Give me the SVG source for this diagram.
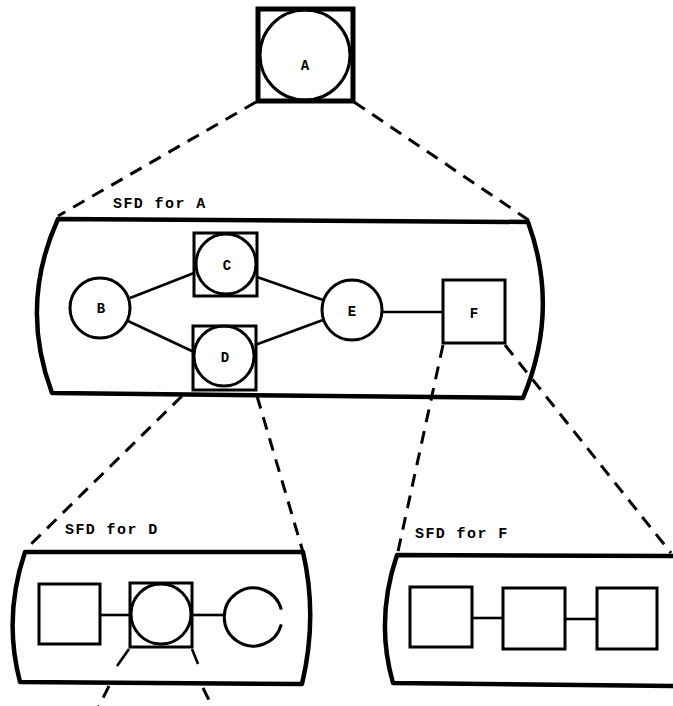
<svg xmlns="http://www.w3.org/2000/svg" width="673" height="706" viewBox="0 0 673 706">
<style>
.box{fill:none;stroke:#000;stroke-width:4.5;stroke-linejoin:round}
.sq{fill:none;stroke:#000;stroke-width:3}
.ci{fill:none;stroke:#000;stroke-width:3}
.ed{fill:none;stroke:#000;stroke-width:2.6}
.da{fill:none;stroke:#000;stroke-width:3;stroke-dasharray:13 9}
.lbl{font-family:"Liberation Mono","DejaVu Sans Mono",monospace;font-weight:bold;font-size:15px;letter-spacing:1.4px;fill:#000}
.nl{font-family:"Liberation Mono","DejaVu Sans Mono",monospace;font-weight:bold;font-size:14px;fill:#000;text-anchor:middle}
</style>
<rect width="673" height="706" fill="#fff"/>

<g id="connectors">
  <line class="da" x1="256" y1="102" x2="58" y2="216"/>
  <line class="da" x1="354" y1="102" x2="530" y2="221"/>
  <line class="da" x1="182" y1="396" x2="25" y2="550"/>
  <line class="da" x1="257" y1="396" x2="303" y2="552"/>
  <line class="da" x1="443" y1="345" x2="397" y2="556"/>
  <line class="da" x1="505" y1="345" x2="671" y2="553"/>
  <line class="ed" x1="130" y1="298" x2="194" y2="273"/>
  <line class="ed" x1="128" y1="321" x2="194" y2="352"/>
  <line class="ed" x1="257" y1="277" x2="323" y2="300"/>
  <line class="ed" x1="255" y1="345" x2="323" y2="320"/>
  <line class="ed" x1="382" y1="312" x2="443" y2="312"/>
  <line class="ed" x1="100" y1="615" x2="130" y2="615"/>
  <line class="ed" x1="192" y1="615" x2="224" y2="615"/>
  <line class="ed" x1="129" y1="649" x2="117" y2="666"/>
  <line class="ed" x1="192" y1="649" x2="198" y2="664"/>
  <line class="da" x1="109" y1="686" x2="98" y2="708"/>
  <line class="da" x1="203" y1="688" x2="213" y2="708"/>
  <line class="ed" x1="472" y1="618" x2="503" y2="618"/>
  <line class="ed" x1="565" y1="619" x2="597" y2="619"/>
</g>

<g id="nodeA">
  <rect x="258" y="9" width="95" height="92" fill="none" stroke="#000" stroke-width="5"/>
  <circle class="ci" cx="305" cy="55" r="45" stroke-width="4"/>
  <text class="nl" x="305" y="70">A</text>
</g>

<g id="sfdA">
  <path class="box" d="M58,219 L528,222 Q560,310 523,398 L52,393 Q19,305 58,219 Z"/>
  <text class="lbl" x="113" y="208">SFD for A</text>
</g>
<g id="nodeB">
  <circle class="ci" cx="100" cy="308" r="30"/>
  <text class="nl" x="101" y="313">B</text>
</g>
<g id="nodeC">
  <rect class="sq" x="194" y="233" width="63" height="63"/>
  <circle class="ci" cx="226" cy="264" r="30"/>
  <text class="nl" x="227" y="270">C</text>
</g>
<g id="nodeD">
  <rect class="sq" x="193" y="326" width="63" height="64"/>
  <circle class="ci" cx="224" cy="356" r="30"/>
  <text class="nl" x="225" y="362">D</text>
</g>
<g id="nodeE">
  <circle class="ci" cx="352" cy="310" r="30"/>
  <text class="nl" x="352" y="316">E</text>
</g>
<g id="nodeF">
  <rect class="sq" x="443" y="280" width="62" height="63"/>
  <text class="nl" x="474" y="318">F</text>
</g>

<g id="sfdD">
  <path class="box" d="M25,552 L303,552 Q318,617 302,684 L20,682 Q3,617 25,552 Z"/>
  <text class="lbl" x="65" y="534">SFD for D</text>
</g>
<g id="sfdD-n1">
  <rect class="sq" x="39" y="584" width="61" height="60"/>
</g>
<g id="sfdD-n2">
  <rect class="sq" x="130" y="583" width="62" height="64"/>
  <circle class="ci" cx="161" cy="614" r="30"/>
</g>
<g id="sfdD-n3">
  <path class="ci" d="M281.3,609.6 A29,29 0 1 0 281.3,624.4"/>
</g>

<g id="sfdF">
  <path class="box" d="M397,555 L678,556 L678,686 L393,683 Q375,620 397,555 Z"/>
  <text class="lbl" x="415" y="538">SFD for F</text>
</g>
<g id="sfdF-n1">
  <rect class="sq" x="410" y="587" width="62" height="60"/>
</g>
<g id="sfdF-n2">
  <rect class="sq" x="503" y="588" width="62" height="61"/>
</g>
<g id="sfdF-n3">
  <rect class="sq" x="597" y="588" width="60" height="61"/>
</g>
</svg>
